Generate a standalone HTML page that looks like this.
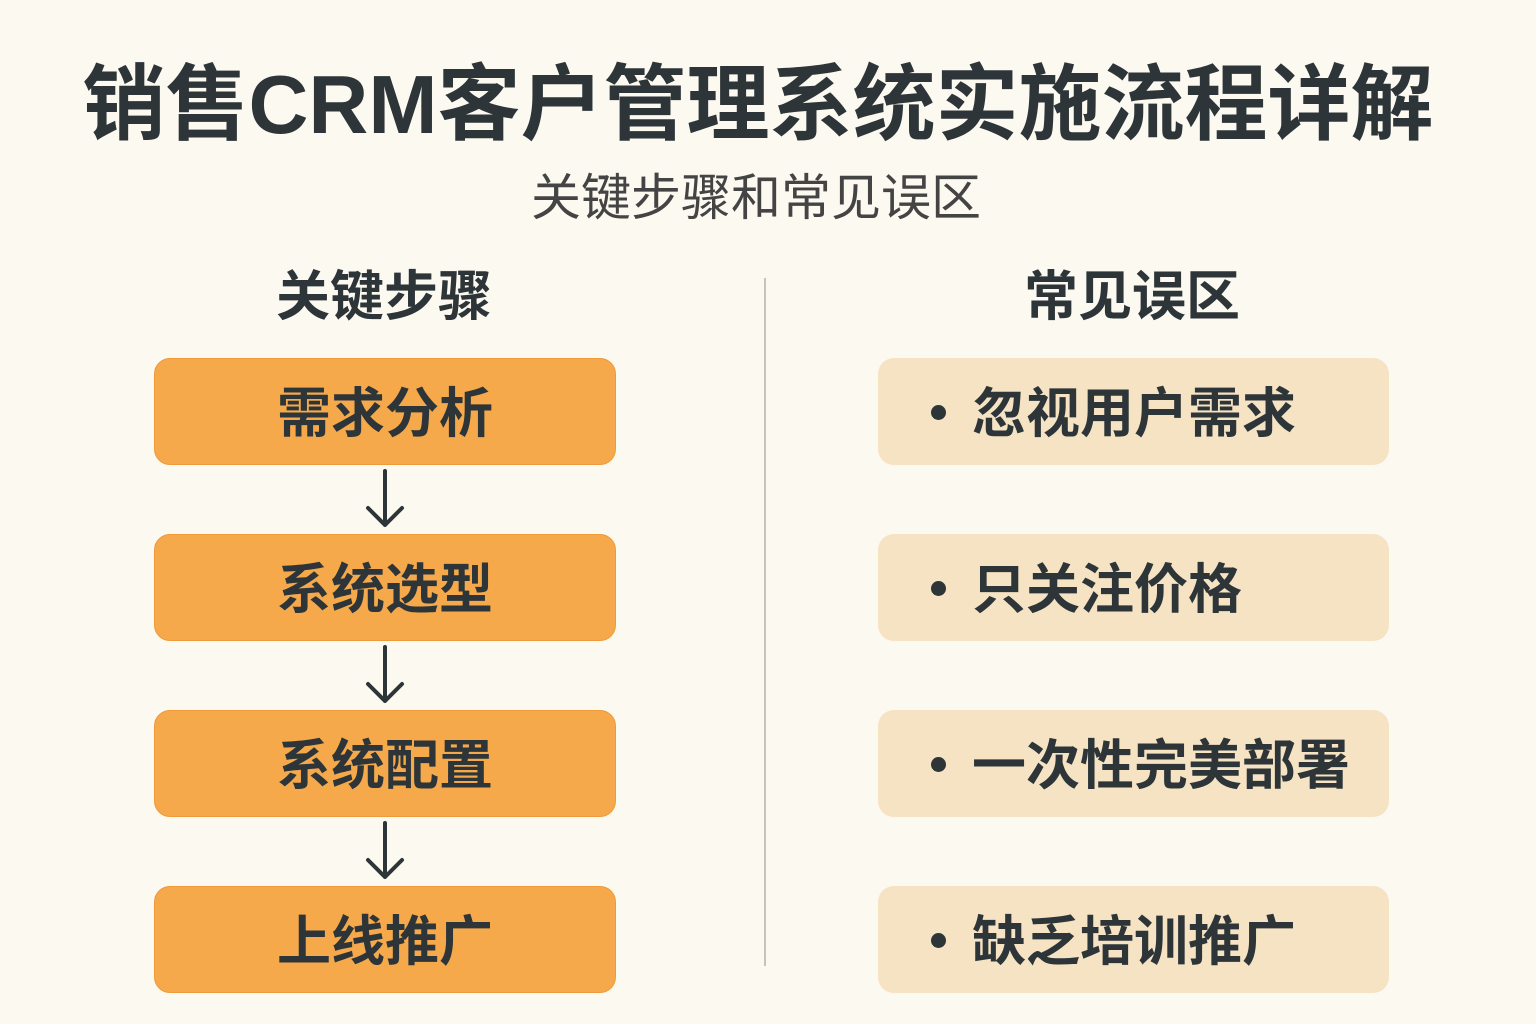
<!DOCTYPE html>
<html><head><meta charset="utf-8"><style>
body{margin:0;width:1536px;height:1024px;background:#fcf9f1;position:relative;overflow:hidden;font-family:"Liberation Sans","Noto Sans CJK SC",sans-serif;color:#2d3539}
.a{position:absolute;white-space:nowrap}
.t{left:-10px;width:1536px;text-align:center;top:55px;font-size:83px;font-weight:bold;line-height:100px;letter-spacing:0px}
.s{left:-12px;width:1536px;text-align:center;top:168px;font-size:50px;line-height:60px;color:#444}
.h{font-size:54px;font-weight:bold;line-height:60px;top:267px;text-align:center;width:300px}
.b{position:absolute;width:462px;height:107px;border-radius:16px;background:#f5a94b;border:1px solid #f09a3a;box-sizing:border-box;left:154px;text-align:center;font-size:54px;font-weight:bold;line-height:110px}
.r{position:absolute;width:511px;height:107px;border-radius:16px;background:#f5e3c3;left:878px;font-size:54px;font-weight:bold;line-height:112px;padding-left:94px;box-sizing:border-box}
.r:before{content:"";position:absolute;left:53px;top:47px;width:15px;height:15px;border-radius:50%;background:#2d3539}
</style></head><body>
<div class="a t">销售CRM客户管理系统实施流程详解</div>
<div class="a s">关键步骤和常见误区</div>
<div class="a h" style="left:234px">关键步骤</div>
<div class="a h" style="left:982px">常见误区</div>
<div class="a" style="left:764px;top:278px;width:2px;height:688px;background:#c8c3ba"></div>
<div class="b" style="top:358px">需求分析</div>
<div class="b" style="top:534px">系统选型</div>
<div class="b" style="top:710px">系统配置</div>
<div class="b" style="top:886px">上线推广</div>
<svg class="a" style="left:0;top:0" width="1536" height="1024">
<g stroke="#2d3539" stroke-width="4" fill="none" stroke-linecap="round" stroke-linejoin="round">
<path d="M385 471V525M368 508L385 525L402 508"/>
<path d="M385 647V701M368 684L385 701L402 684"/>
<path d="M385 823V877M368 860L385 877L402 860"/>
</g></svg>
<div class="r" style="top:358px">忽视用户需求</div>
<div class="r" style="top:534px">只关注价格</div>
<div class="r" style="top:710px">一次性完美部署</div>
<div class="r" style="top:886px">缺乏培训推广</div>
</body></html>
